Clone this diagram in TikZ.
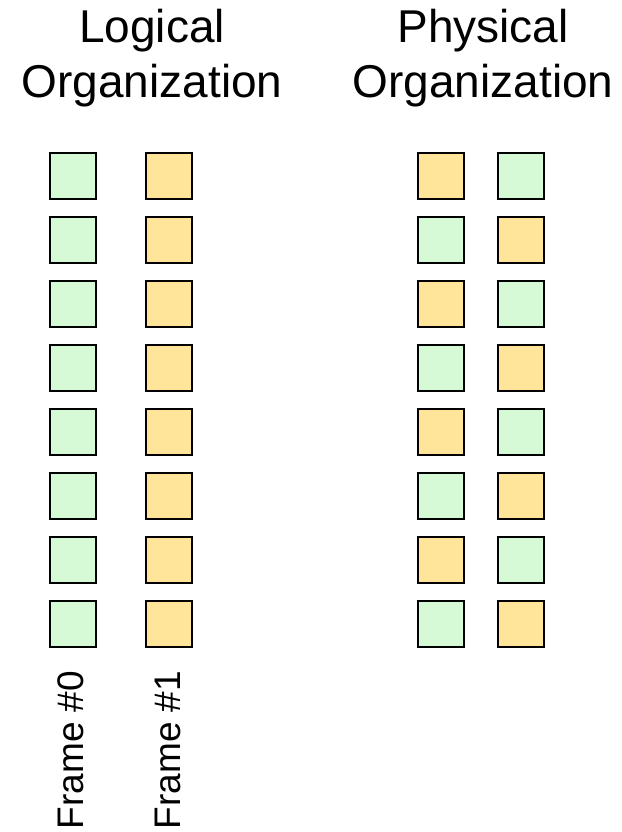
\documentclass[tikz,border=0pt]{standalone}
\usepackage{fontspec}
\setmainfont{Liberation Sans}
\definecolor{framegreen}{HTML}{D5FAD5}
\definecolor{frameorange}{HTML}{FFE599}
\tikzset{
  cell/.style={draw=black, line width=2pt, minimum size=46pt, inner sep=0pt},
  greencell/.style={cell, fill=framegreen},
  orangecell/.style={cell, fill=frameorange},
  title/.style={align=center, font=\fontsize{46}{55}\selectfont},
  framelabel/.style={rotate=90, inner sep=0pt, font=\fontsize{37}{40}\selectfont},
}
\begin{document}
\begin{tikzpicture}[x=1pt,y=-1pt]
  \useasboundingbox (0,0) rectangle (621,832);
  % headings
  \node[title] (logical) at (152,58) {Logical\\Organization};
  \node[title] (physical) at (483,58) {Physical\\Organization};
  % logical: one column per frame
  \foreach \r in {1,...,8} {
    \pgfmathtruncatemacro\y{176+64*(\r-1)}
    \node[greencell] (lg\r) at (73,\y) {};
    \node[orangecell] (lo\r) at (169,\y) {};
  }
  % physical: frames interleaved
  \foreach \r in {1,...,8} {
    \pgfmathtruncatemacro\y{176+64*(\r-1)}
    \ifodd\r
      \node[orangecell] (pa\r) at (441,\y) {};
      \node[greencell] (pb\r) at (521,\y) {};
    \else
      \node[greencell] (pa\r) at (441,\y) {};
      \node[orangecell] (pb\r) at (521,\y) {};
    \fi
  }
  \node[framelabel] (frame0) at (71,750) {Frame \#0};
  \node[framelabel] (frame1) at (168,750) {Frame \#1};
\end{tikzpicture}
\end{document}
